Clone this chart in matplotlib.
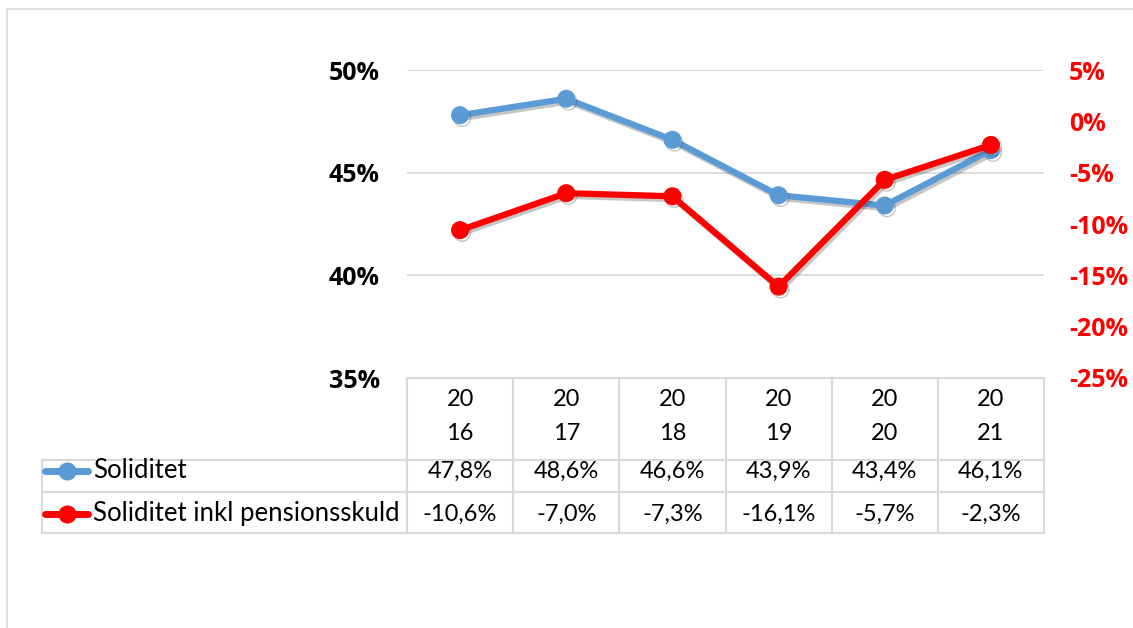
import matplotlib

matplotlib.use("Agg")
import matplotlib.pyplot as plt
import matplotlib.patheffects as pe
import matplotlib.transforms as mtransforms
from matplotlib.lines import Line2D
from matplotlib.patches import Rectangle

years = ["2016", "2017", "2018", "2019", "2020", "2021"]
soliditet = [47.8, 48.6, 46.6, 43.9, 43.4, 46.1]
soliditet_pension = [-10.6, -7.0, -7.3, -16.1, -5.7, -2.3]
series_names = ["Soliditet", "Soliditet inkl pensionsskuld"]
left_ticks = [35, 40, 45, 50]
right_ticks = [-25, -20, -15, -10, -5, 0, 5]

BLUE = "#5B9BD5"
RED = "#FF0000"
GRID = "#D9D9D9"
W, H = 1133, 628

plt.rcParams["font.family"] = ["Lato", "DejaVu Sans"]
TICK_FONT = dict(family=["Open Sans", "DejaVu Sans"], fontweight="bold", fontsize=18)

fig = plt.figure(figsize=(W / 100, H / 100), dpi=100)
# pixel coords (origin top-left) -> figure
px = mtransforms.Affine2D().scale(1 / W, -1 / H).translate(0, 1) + fig.transFigure

# outer chart frame (cut off at right/bottom in the reference)
fig.add_artist(Rectangle((7, 9), 1200, 700, transform=px, fill=False,
                         edgecolor=GRID, linewidth=1.2))

ax = fig.add_axes([407 / W, 1 - 378 / H, (1044 - 407) / W, (378 - 70) / H])
ax2 = ax.twinx()

x = list(range(len(years)))
shadow = [pe.SimpleLineShadow(offset=(1.5, -2), alpha=0.3, shadow_color="#444444"), pe.Normal()]
ax.plot(x, soliditet, color=BLUE, lw=4.5, marker="o", ms=12, path_effects=shadow, zorder=3)
ax2.plot(x, soliditet_pension, color=RED, lw=4.5, marker="o", ms=12, path_effects=shadow, zorder=3)

ax.set_xlim(-0.5, len(years) - 0.5)
ax.set_ylim(left_ticks[0], left_ticks[-1])
ax2.set_ylim(right_ticks[0], right_ticks[-1])
ax.set_yticks(left_ticks)
ax2.set_yticks(right_ticks)
ax.set_xticks([])
ax.tick_params(axis="y", length=0, labelleft=False)
ax2.tick_params(axis="y", length=0, labelright=False)

ax.grid(axis="y", color=GRID, lw=1.3)
ax.set_axisbelow(True)
for a in (ax, ax2):
    for s in a.spines.values():
        s.set_visible(False)

# y tick labels drawn as bold text (Excel style)
left_tr = mtransforms.blended_transform_factory(px, ax.transData)
right_tr = mtransforms.blended_transform_factory(px, ax2.transData)
for v in left_ticks:
    fig.text(380, v, f"{v}%", transform=left_tr, ha="right", va="center_baseline", color="black", **TICK_FONT)
for v in right_ticks:
    fig.text(1069, v, f"{v}%", transform=right_tr, ha="left", va="center_baseline", color=RED, **TICK_FONT)

# data table below the plot
col_tr = mtransforms.blended_transform_factory(ax.transData, px)
edges = [i - 0.5 for i in range(len(years) + 1)]
tkw = dict(color=GRID, lw=1.5, zorder=1)
fig.add_artist(Line2D([edges[0], edges[-1]], [378, 378], transform=col_tr, **tkw))
for y in (460, 492, 533):
    fig.add_artist(Line2D([42, 1044], [y, y], transform=px, **tkw))
fig.add_artist(Line2D([42, 42], [460, 533], transform=px, **tkw))
for e in edges:
    fig.add_artist(Line2D([e, e], [378, 533], transform=col_tr, **tkw))

cell_kw = dict(transform=col_tr, ha="center", va="center", fontsize=17, color="black")
for i, yr in enumerate(years):
    fig.text(i, 399, yr[:2], **cell_kw)
    fig.text(i, 433, yr[2:], **cell_kw)
    fig.text(i, 471, f"{soliditet[i]:.1f}%".replace(".", ","), **cell_kw)
    fig.text(i, 514, f"{soliditet_pension[i]:.1f}%".replace(".", ","), **cell_kw)

for name, color, y in zip(series_names, (BLUE, RED), (471, 514)):
    fig.add_artist(Line2D([45, 88], [y, y], transform=px, color=color, lw=5, solid_capstyle="round"))
    fig.add_artist(Line2D([67], [y], transform=px, color=color, marker="o", ms=12))
    fig.text(93, y, name, transform=px, ha="left", va="center", fontsize=18.5, color="black")

fig.savefig("out.png", dpi=100)
